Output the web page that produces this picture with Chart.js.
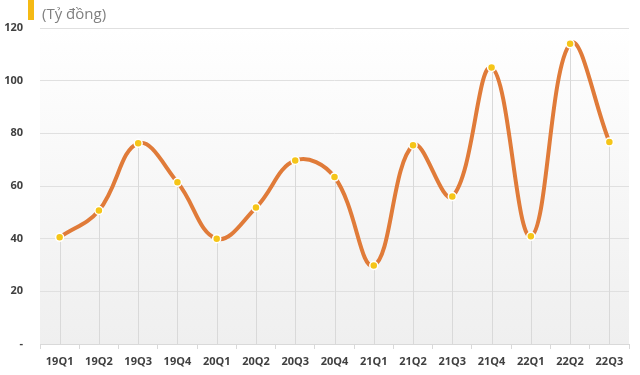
<!DOCTYPE html>
<html>
<head>
<meta charset="utf-8">
<script src="https://cdn.jsdelivr.net/npm/chart.js@4/dist/chart.umd.min.js"></script>
<style>
  html, body { margin: 0; padding: 0; background: #fff; }
  #wrap { width: 640px; height: 375px; position: relative; }
</style>
</head>
<body>
<div id="wrap"><canvas id="chart"></canvas></div>
<script>
const quarters = ["19Q1", "19Q2", "19Q3", "19Q4", "20Q1", "20Q2", "20Q3", "20Q4",
                  "21Q1", "21Q2", "21Q3", "21Q4", "22Q1", "22Q2", "22Q3"];
const profit = [40.5, 50.7, 76.2, 61.4, 40, 51.8, 69.7, 63.4,
                29.8, 75.5, 56, 105, 40.9, 114, 76.7];
const unitLabel = "(Tỷ đồng)";

// plot background gradient + drop lines from each point
const extras = {
    id: "extras",
    beforeDatasetsDraw(chart) {
        const { ctx, chartArea, scales } = chart;
        ctx.save();
        ctx.strokeStyle = "#d9d9d9";
        ctx.lineWidth = 1;
        profit.forEach((v, i) => {
            const x = Math.round(scales.x.getPixelForValue(i)) + 0.5;
            ctx.beginPath();
            ctx.moveTo(x, scales.y.getPixelForValue(v));
            ctx.lineTo(x, chartArea.bottom);
            ctx.stroke();
        });
        ctx.restore();
    },
    beforeDraw(chart) {
        const { ctx, chartArea } = chart;
        const g = ctx.createLinearGradient(0, chartArea.top, 0, chartArea.bottom);
        g.addColorStop(0, "#ffffff");
        g.addColorStop(1, "#efefef");
        ctx.save();
        ctx.fillStyle = g;
        ctx.fillRect(chartArea.left, chartArea.top, chartArea.right - chartArea.left, chartArea.bottom - chartArea.top);
        ctx.fillStyle = "#f5ba14";
        ctx.fillRect(28, 0, 6, 20);
        ctx.fillStyle = "#808080";
        ctx.font = "15px 'Open Sans'";
        ctx.textBaseline = "alphabetic";
        ctx.fillText(unitLabel, 42, 19);
        ctx.restore();
    }
};

new Chart(document.getElementById("chart"), {
    type: "line",
    data: {
        labels: quarters,
        datasets: [{
            data: profit,
            borderColor: "#e07b39",
            borderWidth: 4,
            tension: 0.4,
            pointRadius: 4,
            pointBackgroundColor: "#f5c518",
            pointBorderColor: "#ffffff",
            pointBorderWidth: 1.5
        }]
    },
    options: {
        responsive: true,
        maintainAspectRatio: false,
        animation: false,
        layout: { padding: { top: 28, right: 11, left: 0, bottom: 0 } },
        plugins: { legend: { display: false }, tooltip: { enabled: false } },
        scales: {
            x: {
                offset: true,
                grid: { offset: true, drawOnChartArea: false, drawTicks: true, tickLength: 5, color: "#d9d9d9" },
                border: { color: "#d9d9d9" },
                ticks: { color: "#404040", font: { family: "'Open Sans'", size: 11, weight: "bold" }, padding: 6, maxRotation: 0 },
                afterFit(axis) { axis.height = 31; }
            },
            y: {
                min: 0,
                max: 120,
                grid: { color: "#e0e0e0", drawTicks: false },
                border: { display: false },
                ticks: {
                    stepSize: 20,
                    padding: 17,
                    color: "#404040",
                    font: { family: "'Open Sans'", size: 11, weight: "bold" },
                    callback: v => v === 0 ? "-" : v
                },
                afterFit(axis) { axis.width = 40; }
            }
        }
    },
    plugins: [extras]
});
</script>
</body>
</html>
